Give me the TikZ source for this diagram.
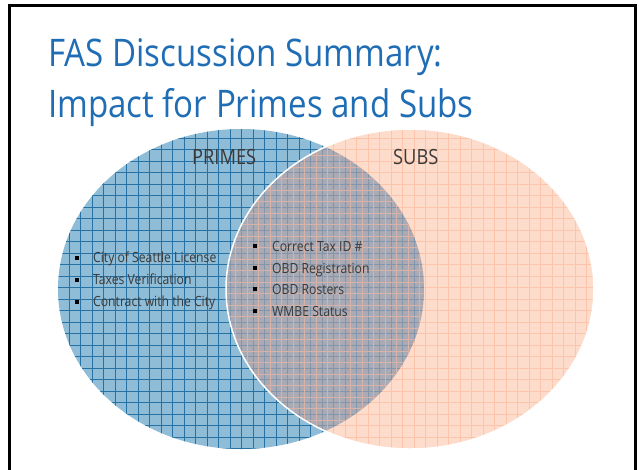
\documentclass[tikz,border=0pt]{standalone}
\usepackage{fontspec}
\setmainfont[FakeStretch=0.87]{Open Sans}
\definecolor{titleblue}{HTML}{1F6DB4}
\definecolor{bluebg}{HTML}{8FBCD6}
\definecolor{blueline}{HTML}{2672A4}
\definecolor{pinkbg}{HTML}{FEDCCB}
\definecolor{pinkline}{HTML}{FCC4AA}
\definecolor{graybg}{HTML}{A9AAB3}
\definecolor{grayblue}{HTML}{8395AA}
\definecolor{graypink}{HTML}{D6B2A9}
\definecolor{labelgray}{HTML}{3A3A3A}
\tikzset{
  txt/.style={inner sep=0pt, anchor=base west, text=labelgray},
  title/.style={inner sep=0pt, anchor=base west, text=titleblue, font=\fontsize{38}{46}\selectfont},
  setlabel/.style={txt, font=\fontsize{21}{25}\selectfont},
  item/.style={txt, font=\fontsize{14}{17}\selectfont},
  bul/.style={fill=black, inner sep=0pt, minimum size=4pt, draw=none}
}
\begin{document}
\begin{tikzpicture}[x=1pt,y=-1pt]
\useasboundingbox (0,0) rectangle (639,469);
\fill[white] (0,0) rectangle (639,469);
\draw[line width=3pt] (9.5,480) -- (9.5,5.5) -- (635.5,5.5) -- (635.5,480);

\coordinate (pc) at (241,289);
\coordinate (sc) at (410,289);

% Primes ellipse
\fill[bluebg] (pc) ellipse [x radius=183pt, y radius=160pt];
\begin{scope}
  \clip (pc) ellipse [x radius=183pt, y radius=160pt];
  \draw[blueline, line width=0.9pt, step=11.5pt] (0,0) grid (460,469);
\end{scope}

% Subs ellipse
\fill[pinkbg] (sc) ellipse [x radius=184pt, y radius=160pt];
\begin{scope}
  \clip (sc) ellipse [x radius=184pt, y radius=160pt];
  \draw[pinkline, line width=0.9pt, step=11.5pt] (0,0) grid (639,469);
\end{scope}

% Overlap
\begin{scope}
  \clip (pc) ellipse [x radius=183pt, y radius=160pt];
  \clip (sc) ellipse [x radius=184pt, y radius=160pt];
  \fill[graybg] (0,0) rectangle (639,469);
  \draw[grayblue, line width=0.8pt, step=11.5pt] (0,0) grid (639,469);
  \draw[graypink, line width=0.7pt, step=11.5pt, xshift=5.5pt, yshift=5.5pt] (-20,-20) grid (639,469);
\end{scope}
\draw[white, line width=1.5pt] (sc) ellipse [x radius=184pt, y radius=160pt];

% Title
\node[title] (t1) at (48,66) {FAS Discussion Summary:};
\node[title] (t2) at (48,117) {Impact for Primes and Subs};

% Set labels
\node[setlabel] (primes) at (192,164) {PRIMES};
\node[setlabel] (subs) at (393,164) {SUBS};

% Primes-only list
\node[bul] (pb1) at (77,258) {};
\node[item] (p1) at (93,262) {City of Seattle License};
\node[bul] (pb2) at (77,280) {};
\node[item] (p2) at (93,284) {Taxes Verification};
\node[bul] (pb3) at (77,302) {};
\node[item] (p3) at (93,306) {Contract with the City};

% Shared list
\node[bul] (sb1) at (255,246) {};
\node[item] (s1) at (272,251) {Correct Tax ID \#};
\node[bul] (sb2) at (255,268) {};
\node[item] (s2) at (272,273) {OBD Registration};
\node[bul] (sb3) at (255,289) {};
\node[item] (s3) at (272,294) {OBD Rosters};
\node[bul] (sb4) at (255,311) {};
\node[item] (s4) at (272,316) {WMBE Status};
\end{tikzpicture}
\end{document}
